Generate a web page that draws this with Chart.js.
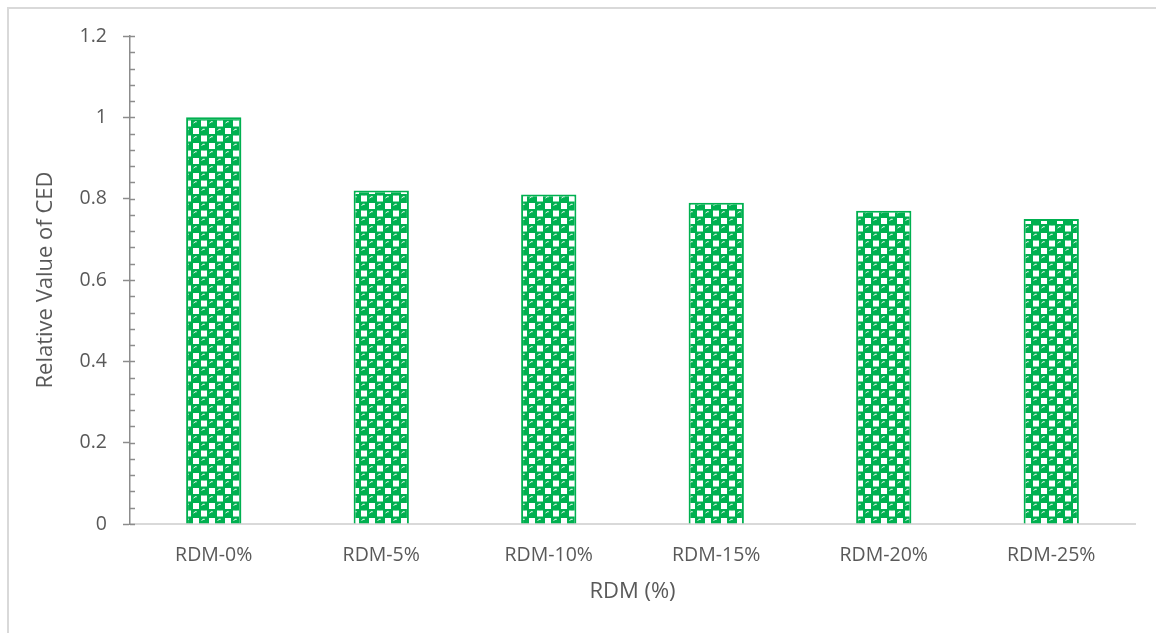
<!DOCTYPE html>
<html>
<head>
<meta charset="utf-8">
<script src="https://cdn.jsdelivr.net/npm/chart.js@4/dist/chart.umd.min.js"></script>
<style>
  html, body { margin: 0; padding: 0; background: #ffffff; overflow: hidden; }
  #chart { display: block; }
</style>
</head>
<body>
<canvas id="chart" width="1156" height="633"></canvas>
<script>
// Relative CED for each RDM replacement level
const categories = ['RDM-0%', 'RDM-5%', 'RDM-10%', 'RDM-15%', 'RDM-20%', 'RDM-25%'];
const cedValues = [1.0, 0.82, 0.81, 0.79, 0.77, 0.75];
const yMax = 1.2;
const yMajorStep = 0.2;
const yMinorStep = 0.04;

const GREEN = '#00b050';
const TEXT = '#595959';
const FONT = "'Open Sans', 'Noto Sans', sans-serif";

// Sphere-style checker fill for the bars
function spherePattern() {
  const c = document.createElement('canvas');
  c.width = 16; c.height = 15;
  const g = c.getContext('2d');
  g.fillStyle = GREEN;
  g.fillRect(0, 0, 16, 15);
  g.fillStyle = '#ffffff';
  g.fillRect(9, 0.5, 6, 6);
  g.fillRect(1, 8, 6, 6);
  function ball(cx, cy) {
    g.fillStyle = GREEN;
    g.beginPath(); g.arc(cx, cy, 3.9, 0, Math.PI * 2); g.fill();
    g.strokeStyle = '#ffffff';
    g.lineWidth = 1;
    g.beginPath(); g.arc(cx, cy + 0.3, 2.4, Math.PI * 1.1, Math.PI * 1.6); g.stroke();
  }
  ball(4, 3.75);
  ball(12, 11.25);
  ball(12, -3.75);
  ball(-4, 11.25);
  ball(20, 11.25);
  ball(4, 18.75);
  return g.createPattern(c, 'repeat');
}

// Light frame around the chart block
const frame = {
  id: 'frame',
  beforeDraw(chart) {
    const ctx = chart.ctx;
    ctx.save();
    ctx.strokeStyle = '#d9d9d9';
    ctx.lineWidth = 2;
    ctx.beginPath();
    ctx.moveTo(8, chart.height);
    ctx.lineTo(8, 8);
    ctx.lineTo(chart.width, 8);
    ctx.stroke();
    ctx.restore();
  }
};

// Small inward ticks along the value axis
const minorTicks = {
  id: 'minorTicks',
  afterDatasetsDraw(chart) {
    const y = chart.scales.y;
    const ctx = chart.ctx;
    ctx.save();
    ctx.strokeStyle = '#8c8c8c';
    ctx.lineWidth = 1.5;
    const n = Math.round(yMax / yMinorStep);
    for (let i = 0; i <= n; i++) {
      const py = Math.round(y.getPixelForValue(i * yMinorStep)) + 0.5;
      ctx.beginPath();
      ctx.moveTo(y.right, py);
      ctx.lineTo(y.right + 5, py);
      ctx.stroke();
    }
    ctx.restore();
  }
};

new Chart(document.getElementById('chart'), {
  type: 'bar',
  data: {
    labels: categories,
    datasets: [{
      data: cedValues,
      backgroundColor: spherePattern(),
      borderColor: GREEN,
      borderWidth: 2,
      categoryPercentage: 1.0,
      barPercentage: 0.33
    }]
  },
  options: {
    responsive: false,
    animation: false,
    layout: { padding: { left: 0, right: 21, top: 36, bottom: 0 } },
    plugins: { legend: { display: false }, tooltip: { enabled: false } },
    scales: {
      x: {
        grid: { display: false },
        border: { display: true, color: '#d9d9d9', width: 2 },
        ticks: { color: TEXT, font: { family: FONT, size: 19.5 }, padding: 12 },
        title: { display: true, text: 'RDM (%)', color: TEXT,
                 font: { family: FONT, size: 22 }, padding: { top: 4, bottom: 28 } },
        afterFit(s) { s.height = 633 - 524; }
      },
      y: {
        min: 0,
        max: yMax,
        ticks: {
          stepSize: yMajorStep, color: TEXT, font: { family: FONT, size: 19.5 }, padding: 16,
          callback: (v) => String(Number(v.toFixed(1)))
        },
        grid: { drawOnChartArea: false, drawTicks: true, tickLength: 7, color: '#8c8c8c', tickWidth: 1.5 },
        border: { display: true, color: '#8c8c8c', width: 1.5 },
        title: { display: true, text: 'Relative Value of CED', color: TEXT,
                 font: { family: FONT, size: 22 }, padding: { top: 33, bottom: 4 } },
        afterFit(s) { s.width = 130; }
      }
    }
  },
  plugins: [frame, minorTicks]
});
</script>
</body>
</html>
